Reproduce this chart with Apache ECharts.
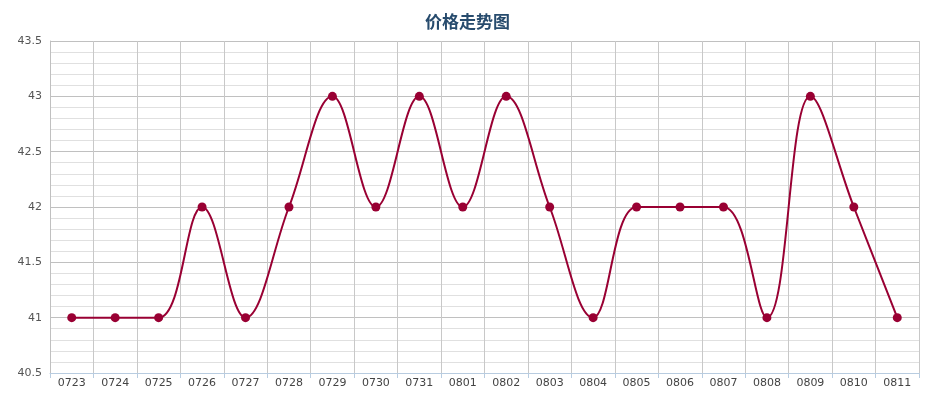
<!DOCTYPE html>
<html>
<head>
<meta charset="utf-8">
<script src="https://cdn.jsdelivr.net/npm/echarts@6/dist/echarts.min.js"></script>
<style>
  html, body { margin: 0; padding: 0; background: #fff; }
  #chart { width: 935px; height: 397px; }
</style>
</head>
<body>
<div id="chart"></div>
<script>
  const dates = ['0723', '0724', '0725', '0726', '0727', '0728', '0729', '0730', '0731', '0801',
    '0802', '0803', '0804', '0805', '0806', '0807', '0808', '0809', '0810', '0811']
  const prices = [41, 41, 41, 42, 41, 42, 43, 42, 43, 42, 43, 42, 41, 42, 42, 42, 41, 43, 42, 41]

  const chart = echarts.init(document.getElementById('chart'))

  const option = {
    backgroundColor: '#fff',
    animation: false,
    title: {
      text: '价格走势图',
      left: 'center',
      top: 8,
      textStyle: {
        color: '#274b6d',
        fontSize: 17,
        fontWeight: 'bold',
        fontFamily: 'Noto Sans CJK SC'
      }
    },
    grid: {
      top: 41,
      left: 50,
      right: 16,
      bottom: 24
    },
    xAxis: {
      type: 'category',
      data: dates,
      boundaryGap: true,
      axisLine: { lineStyle: { color: '#b8cce0', width: 1 } },
      axisTick: { show: true, length: 5, lineStyle: { color: '#b8cce0' } },
      axisLabel: {
        color: '#444',
        fontSize: 11,
        fontFamily: 'DejaVu Sans',
        margin: 5,
        interval: 0
      },
      splitLine: { show: true, lineStyle: { color: '#c8c8c8', width: 1 } }
    },
    yAxis: {
      type: 'value',
      min: 40.5,
      max: 43.5,
      interval: 0.5,
      axisLine: { show: true, lineStyle: { color: '#c0c0c0' } },
      axisTick: { show: false },
      axisLabel: {
        color: '#555',
        fontSize: 11,
        fontFamily: 'DejaVu Sans',
        margin: 8
      },
      splitLine: { lineStyle: { color: '#c0c0c0', width: 1 } },
      minorTick: { show: false, splitNumber: 5 },
      minorSplitLine: { show: true, lineStyle: { color: '#e0e0e0', width: 1 } }
    },
    series: [
      {
        name: '价格',
        type: 'line',
        smooth: 0.38,
        symbol: 'circle',
        symbolSize: 9,
        lineStyle: { color: '#990033', width: 2 },
        itemStyle: { color: '#990033' },
        data: prices
      }
    ]
  }

  chart.setOption(option)
</script>
</body>
</html>
